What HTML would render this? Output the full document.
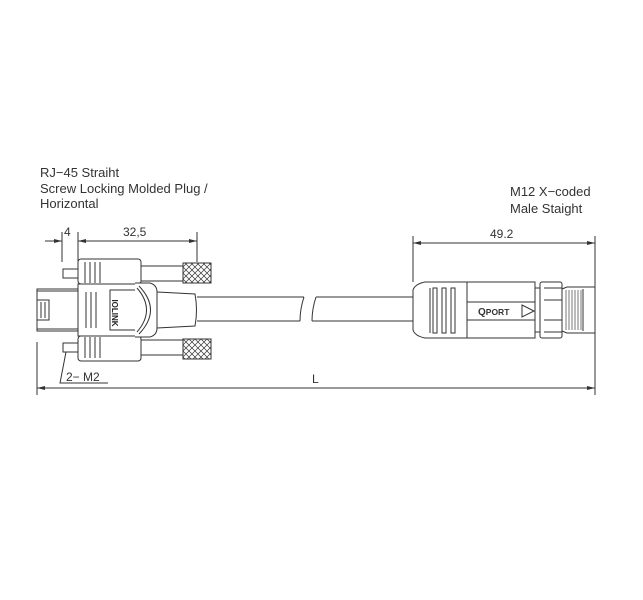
<!DOCTYPE html>
<html><head><meta charset="utf-8"><style>
html,body{margin:0;padding:0;background:#fff;}
svg{display:block;}
text{font-family:"Liberation Sans",sans-serif;fill:#333;}
</style></head><body>
<svg width="643" height="600" viewBox="0 0 643 600" xmlns="http://www.w3.org/2000/svg">
<defs>
<pattern id="kn" width="6" height="6" patternUnits="userSpaceOnUse">
<path d="M0 0L6 6M6 0L0 6" stroke="#333" stroke-width="0.7"/>
</pattern>
<marker id="ar" markerWidth="8" markerHeight="6" refX="8" refY="3" orient="auto" markerUnits="userSpaceOnUse"><path d="M0 1L8 3L0 5z" fill="#333"/></marker>
<marker id="al" markerWidth="8" markerHeight="6" refX="0" refY="3" orient="auto" markerUnits="userSpaceOnUse"><path d="M8 1L0 3L8 5z" fill="#333"/></marker>
</defs>

<!-- titles -->
<text x="40" y="177" font-size="13">RJ−45 Straiht</text>
<text x="40" y="193" font-size="13">Screw Locking Molded Plug /</text>
<text x="40" y="208" font-size="13">Horizontal</text>
<text x="510" y="196" font-size="13">M12 X−coded</text>
<text x="510" y="213" font-size="13">Male Staight</text>

<g stroke="#333" fill="none" stroke-width="1">
<line x1="62" y1="232" x2="62" y2="262"/>
<line x1="78" y1="232" x2="78" y2="262"/>
<line x1="197" y1="232" x2="197" y2="262"/>
<line x1="45" y1="241" x2="62" y2="241" marker-end="url(#ar)"/>
<line x1="78" y1="241" x2="197" y2="241" marker-start="url(#al)" marker-end="url(#ar)"/>
<line x1="413" y1="236" x2="413" y2="282"/>
<line x1="595" y1="236" x2="595" y2="395"/>
<line x1="413" y1="243" x2="595" y2="243" marker-start="url(#al)" marker-end="url(#ar)"/>
<line x1="37" y1="342" x2="37" y2="395"/>
<line x1="37" y1="388" x2="595" y2="388" marker-start="url(#al)" marker-end="url(#ar)"/>
<path d="M66 352 L60 383 L108 383"/>

<path d="M197 297 L304 297 M197 321 L300 321"/>
<path d="M304 297 Q300 309 300 321"/>
<path d="M316 297 Q312 309 312 321"/>
<path d="M316 297 L413 297 M312 321 L413 321"/>

<rect x="37" y="289" width="41" height="42"/>
<rect x="37" y="300" width="12" height="20"/>
<line x1="41" y1="302" x2="41" y2="318"/><line x1="45" y1="302" x2="45" y2="318"/>
<line x1="37" y1="291" x2="78" y2="291"/><line x1="37" y1="329" x2="78" y2="329"/>
<rect x="63" y="269" width="15" height="9"/>
<rect x="63" y="343" width="15" height="9"/>
<rect x="78" y="259" width="63" height="25" rx="3"/>
<rect x="78" y="336" width="63" height="25" rx="3"/>
<line x1="85" y1="262" x2="85" y2="283"/><line x1="90" y1="262" x2="90" y2="283"/><line x1="95" y1="262" x2="95" y2="283"/><line x1="100" y1="262" x2="100" y2="283"/>
<line x1="85" y1="337" x2="85" y2="358"/><line x1="90" y1="337" x2="90" y2="358"/><line x1="95" y1="337" x2="95" y2="358"/><line x1="100" y1="337" x2="100" y2="358"/>
<path d="M141 266 L183 266 M141 281 L183 281"/>
<path d="M141 340 L183 340 M141 355 L183 355"/>
<rect x="78" y="284" width="60" height="52" fill="#fff"/>
<rect x="110" y="290" width="28" height="40"/>
<line x1="86" y1="292" x2="86" y2="328"/><line x1="91" y1="292" x2="91" y2="328"/><line x1="96" y1="292" x2="96" y2="328"/>
<path d="M135 283 L150 283 Q157 285 157 292 L157 328 Q157 335 150 337 L135 337" fill="#fff"/>
<path d="M137 288 Q156 310 137 332"/>
<path d="M139 286 Q162 310 139 334"/>
<path d="M157 292 L195 294 Q198 310 195 326 L157 328"/>
</g>
<rect x="183" y="263" width="28" height="20" fill="url(#kn)" stroke="#333"/>
<rect x="183" y="339" width="28" height="20" fill="url(#kn)" stroke="#333"/>
<text x="112" y="313" font-size="8" font-weight="bold" transform="rotate(90 112 313)" text-anchor="middle" style="fill:#222">IOLINK</text>

<g stroke="#333" fill="none" stroke-width="1">
<path d="M467 282 L425 282 Q415 284 413 290 L413 330 Q415 336 425 338 L467 338"/>
<line x1="430" y1="288" x2="430" y2="333"/>
<rect x="433" y="288" width="4" height="45"/><rect x="442" y="288" width="4" height="45"/><rect x="451" y="288" width="4" height="45"/>
<rect x="467" y="282" width="68" height="56"/>
<line x1="467" y1="302" x2="535" y2="302"/><line x1="467" y1="320" x2="535" y2="320"/>
<path d="M522 305 L534 311 L522 317 Z"/>
<rect x="540" y="282" width="22" height="56" rx="2"/>
<line x1="544" y1="288" x2="562" y2="288"/><line x1="544" y1="332" x2="562" y2="332"/>
<line x1="544" y1="300" x2="562" y2="300"/><line x1="544" y1="320" x2="562" y2="320"/>
<line x1="535" y1="288" x2="540" y2="288"/><line x1="535" y1="332" x2="540" y2="332"/>
<path d="M562 289 L567 287 L595 287 L595 333 L567 333 L562 331"/>
<line x1="583" y1="289" x2="583" y2="331"/>
</g>
<g stroke="#555" stroke-width="0.8">
<line x1="566" y1="290" x2="566" y2="330"/><line x1="569" y1="290" x2="569" y2="330"/><line x1="572" y1="290" x2="572" y2="330"/><line x1="575" y1="290" x2="575" y2="330"/><line x1="578" y1="290" x2="578" y2="330"/><line x1="581" y1="290" x2="581" y2="330"/>
</g>
<text x="478" y="315" font-size="10" font-weight="bold">Q<tspan font-size="8.5">PORT</tspan></text>

<text x="64" y="236" font-size="12">4</text>
<text x="123" y="236" font-size="12">32,5</text>
<text x="490" y="238" font-size="12">49.2</text>
<text x="66" y="381" font-size="12">2− M2</text>
<text x="312" y="383" font-size="12">L</text>
</svg>
</body></html>
